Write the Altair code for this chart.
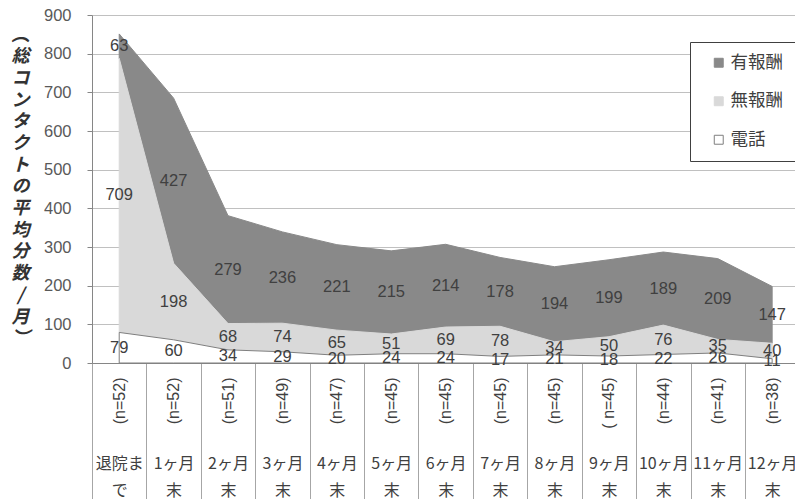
import json
import altair as alt
import pandas as pd

# ---- data ----
cat_line1 = ["退院ま", "1ヶ月", "2ヶ月", "3ヶ月", "4ヶ月", "5ヶ月", "6ヶ月",
             "7ヶ月", "8ヶ月", "9ヶ月", "10ヶ月", "11ヶ月", "12ヶ月"]
cat_line2 = ["で", "末", "末", "末", "末", "末", "末", "末", "末", "末", "末", "末", "末"]
n_labels = ["(n=52)", "(n=52)", "(n=51)", "(n=49)", "(n=47)", "(n=45)", "(n=45)",
            "(n=45)", "(n=45)", "( n=45)", "(n=44)", "(n=41)", "(n=38)"]
series_names = ["有報酬", "無報酬", "電話"]
paid = [63, 427, 279, 236, 221, 215, 214, 178, 194, 199, 189, 209, 147]
unpaid = [709, 198, 68, 74, 65, 51, 69, 78, 34, 50, 76, 35, 40]
phone = [79, 60, 34, 29, 20, 24, 24, 17, 21, 18, 22, 26, 11]

rows = []
for name, vals in [("有報酬", paid), ("無報酬", unpaid), ("電話", phone)]:
    for i in range(len(vals)):
        lower = {"電話": 0, "無報酬": phone[i], "有報酬": phone[i] + unpaid[i]}[name]
        upper = lower + vals[i]
        rows.append({"idx": i, "series": name, "value": vals[i],
                     "lower": lower, "upper": upper, "mid": (lower + upper) / 2})
df = pd.DataFrame(rows)

NUM_FONT = "Liberation Sans"
JP_FONT = "Noto Sans CJK JP"

xscale = alt.Scale(domain=[-0.5, 12.42], nice=False, zero=False)
yscale = alt.Scale(domain=[0, 900], nice=False)

cat_arr = json.dumps([[a, b] for a, b in zip(cat_line1, cat_line2)], ensure_ascii=False)
n_arr = json.dumps(n_labels, ensure_ascii=False)

n_axis = alt.Axis(
    orient="bottom", values=list(range(13)), labelExpr=f"{n_arr}[round(datum.value)]",
    ticks=False, domain=False, grid=False, title=None,
    labelAngle=270, labelAlign="right", labelBaseline="middle", labelPadding=14,
    labelFont=NUM_FONT, labelFontSize=16, labelColor="#404040",
    labelOverlap=False, labelFlush=False, labelBound=False,
)

cat_axis = alt.Axis(
    orient="bottom", values=list(range(13)),
    labelExpr=f"{cat_arr}[round(datum.value)]",
    ticks=False, domain=False, grid=False, title=None,
    labelAngle=0, labelAlign="center", labelBaseline="top", labelPadding=92,
    labelLineHeight=27,
    labelFont=JP_FONT, labelFontSize=16, labelColor="#404040",
    labelOverlap=False, labelFlush=False, labelBound=False,
)

tick_axis = alt.Axis(
    orient="bottom", values=[i - 0.5 for i in range(14)], labels=False,
    ticks=True, tickSize=136, tickColor="#a6a6a6", tickWidth=1,
    domain=True, domainColor="#868686", domainWidth=1, grid=False, title=None,
)

title_chars = ["︵", "総", "コ", "ン", "タ", "ク", "ト", "の", "平", "均", "分", "数", "/", "月", "︶"]

y_axis = alt.Axis(
    values=list(range(0, 901, 100)), grid=True, gridColor="#c0c0c0", gridWidth=1,
    domain=True, domainColor="#868686", ticks=True, tickColor="#868686", tickSize=5,
    labelPadding=16, labelFont=NUM_FONT, labelFontSize=16.5, labelColor="#595959",
    title=title_chars, titleAngle=0, titleX=-72, titleY=11, titleAlign="center",
    titleBaseline="top", titleLineHeight=21.7, titleFont=JP_FONT, titleFontSize=18,
    titleFontWeight="bold", titleFontStyle="italic", titleColor="#333333",
)

legend = alt.Legend(
    orient="none", legendX=598, legendY=27, padding=12, symbolOffset=8,
    strokeColor="#404040", fillColor="#ffffff", symbolType="square", symbolSize=80,
    symbolStrokeWidth=1, labelFont=JP_FONT, labelFontSize=17.5, labelColor="#404040",
    rowPadding=19.5, labelOffset=3, labelExpr="datum.label + '　　'",
)

area = alt.Chart(df).mark_area(strokeWidth=1, interpolate="linear").encode(
    x=alt.X("idx:Q", scale=xscale, axis=n_axis),
    y=alt.Y("upper:Q", scale=yscale, axis=y_axis),
    y2="lower:Q",
    color=alt.Color("series:N", title=None,
                    scale=alt.Scale(domain=series_names, range=["#898989", "#d9d9d9", "#ffffff"]),
                    legend=legend),
    stroke=alt.Stroke("series:N", title=None,
                      scale=alt.Scale(domain=series_names, range=["#898989", "#d9d9d9", "#7f7f7f"]),
                      legend=legend),
)

labels = alt.Chart(df).mark_text(font=NUM_FONT, fontSize=16.5, color="#404040",
                                 align="center", baseline="middle").encode(
    x=alt.X("idx:Q", scale=xscale, axis=cat_axis),
    y=alt.Y("mid:Q", scale=yscale, axis=None),
    text=alt.Text("value:Q"),
)

ticks_layer = alt.Chart(df).mark_point(opacity=0).encode(
    x=alt.X("idx:Q", scale=xscale, axis=tick_axis),
    y=alt.Y("mid:Q", scale=yscale, axis=None),
)

chart = alt.layer(area, labels, ticks_layer).resolve_axis(x="independent", y="independent").properties(
    width=703, height=348,
    autosize=alt.AutoSizeParams(type="none"),
    padding={"left": 92, "top": 15, "right": 0, "bottom": 136},
    background="#ffffff",
).configure_view(stroke=None)

chart.save("out.html", embed_options={"renderer": "svg", "actions": False})
